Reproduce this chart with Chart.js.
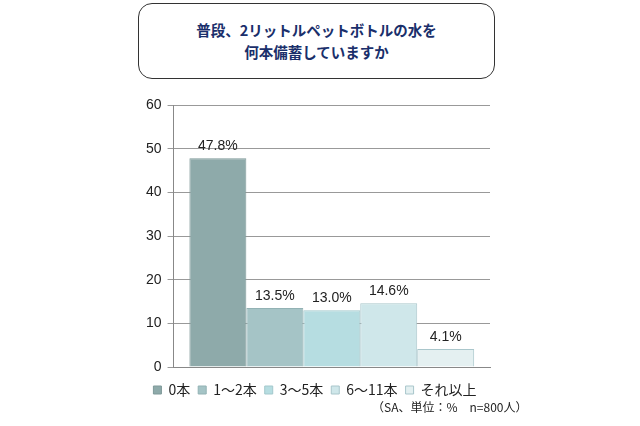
<!DOCTYPE html>
<html><head><meta charset="utf-8">
<script src="https://cdn.jsdelivr.net/npm/chart.js@4"></script>
<style>
body{margin:0;width:640px;height:426px;background:#fff;position:relative;font-family:"Noto Sans CJK JP",sans-serif;overflow:hidden}
#t{position:absolute;left:138px;top:3px;width:357px;height:76px;border:1.5px solid #333;border-radius:14px;box-sizing:border-box;display:flex;align-items:center;justify-content:center;text-align:center;color:#1a2f6b;font-weight:bold;font-size:14.5px;line-height:22px}
#n{position:absolute;left:372px;top:398px;font-size:12px;color:#222}
canvas{position:absolute;left:0;top:0}
</style></head><body>
<div id="t">普段、2リットルペットボトルの水を<br>何本備蓄していますか</div>
<canvas id="c" width="640" height="426"></canvas>
<div id="n">（SA、単位：%　n=800人）</div>
<script>
const categories=["0本","1～2本","3～5本","6～11本","それ以上"];
const values=[47.8,13.5,13.0,14.6,4.1];
const colors=["#8eaaaa","#a5c4c6","#b6dde1","#cfe7ea","#e4f0f1"];
const borders=["#7f9999","#93b2b4","#a3c8cc","#a9c6cb","#a9c6cb"];
const yTicks=[0,10,20,30,40,50,60];
const labelPlugin={id:'lbl',afterDatasetsDraw(ch){const x=ch.ctx;x.save();x.font='14px "Liberation Sans",Arial';x.fillStyle='#222';x.textAlign='center';x.textBaseline='bottom';
ch.data.datasets.forEach((d,i)=>{const b=ch.getDatasetMeta(i).data[0];x.fillText(d.data[0].toFixed(1)+'%',b.x,b.y-5);});x.restore();}};
new Chart(document.getElementById('c'),{type:'bar',
data:{labels:[''],datasets:categories.map((c,i)=>({label:c,data:[values[i]],backgroundColor:colors[i],borderColor:borders[i],borderWidth:1,categoryPercentage:0.9,barPercentage:1}))},
options:{responsive:false,animation:false,layout:{padding:{left:140,right:150,top:105,bottom:19}},
plugins:{legend:{position:'bottom',labels:{boxWidth:8,boxHeight:8,padding:8,color:'#222',font:{size:14,family:'"Noto Sans CJK JP"'}}},tooltip:{enabled:false}},
scales:{x:{grid:{display:false},border:{color:'#888'},ticks:{display:false}},
y:{min:0,max:60,afterBuildTicks:a=>{a.ticks=yTicks.map(v=>({value:v}))},grid:{color:'#999',drawTicks:true,tickLength:6},border:{color:'#888'},ticks:{color:'#222',font:{size:14,family:'"Liberation Sans"'},padding:6}}}},
plugins:[labelPlugin]});
</script></body></html>
